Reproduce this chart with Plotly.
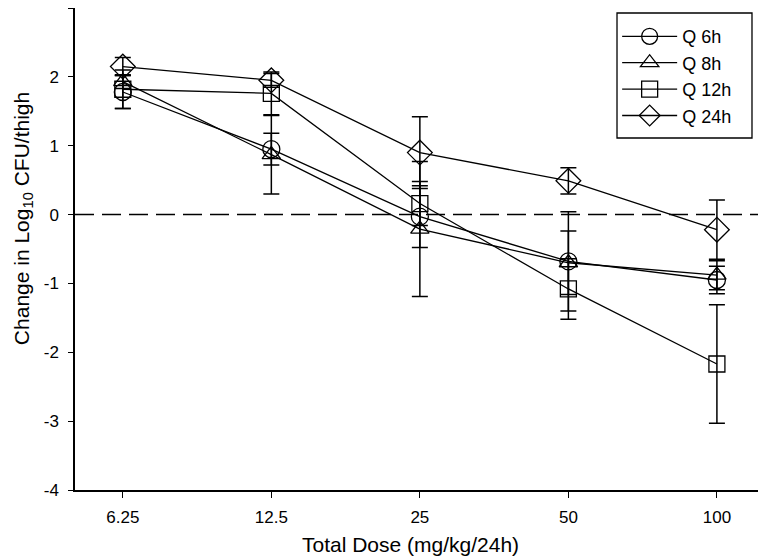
import plotly.graph_objects as go
import numpy as np

doses = [6.25, 12.5, 25, 50, 100]
tick_labels = ["6.25", "12.5", "25", "50", "100"]
y_ticks = [-4, -3, -2, -1, 0, 1, 2, 3]
y_tick_labels = ["-4", "-3", "-2", "-1", "0", "1", "2", "3"]

series_names = ["Q 6h", "Q 8h", "Q 12h", "Q 24h"]
q6_mean = [1.78, 0.95, -0.03, -0.68, -0.95]
q6_err = [0.24, 0.23, 0.45, 0.72, 0.20]
q8_mean = [1.93, 0.87, -0.21, -0.70, -0.88]
q8_err = [0.10, 0.57, 0.98, 0.46, 0.21]
q12_mean = [1.82, 1.76, 0.16, -1.08, -2.17]
q12_err = [0.28, 0.31, 0.32, 0.44, 0.86]
q24_mean = [2.15, 1.95, 0.90, 0.49, -0.22]
q24_err = [0.13, 0.10, 0.52, 0.19, 0.43]

symbols = ["circle-open", "triangle-up-open", "square-open", "diamond-open"]
sizes = [17, 16, 16, 19]
means = [q6_mean, q8_mean, q12_mean, q24_mean]
errs = [q6_err, q8_err, q12_err, q24_err]

FONT = "Liberation Sans, Arial, sans-serif"

fig = go.Figure()
for name, m, e, sym, sz in zip(series_names, means, errs, symbols, sizes):
    fig.add_trace(go.Scatter(
        x=doses, y=m, name=name, mode="lines+markers",
        line=dict(color="black", width=1.3),
        marker=dict(symbol=sym, size=sz, color="black", line=dict(color="black", width=1.3)),
        error_y=dict(type="data", array=e, visible=True, color="black", thickness=1.5, width=8),
    ))

fig.add_shape(type="line", xref="paper", x0=0, x1=1, yref="y", y0=0, y1=0,
              line=dict(color="black", width=1.5, dash="19px,8px"), layer="below")
# legend frame
fig.add_shape(type="rect", xref="paper", yref="paper", x0=0.7878, x1=0.984, y0=0.7303, y1=0.9896,
              line=dict(color="black", width=1.3), fillcolor="white", layer="above")

fig.add_annotation(text="Total Dose (mg/kg/24h)", xref="paper", yref="paper",
                   x=0.487, y=-0.114, xanchor="center", yanchor="middle", showarrow=False,
                   font=dict(family=FONT, size=21))
fig.add_annotation(text="Change in Log<sub>10</sub> CFU/thigh", xref="paper", yref="paper",
                   x=-0.0974, y=0.564, xanchor="left", yanchor="middle", showarrow=False,
                   textangle=-90, font=dict(family=FONT, size=21))

fig.update_layout(
    width=758, height=551,
    paper_bgcolor="white", plot_bgcolor="white",
    margin=dict(l=67, r=3, t=0, b=69, autoexpand=False),
    font=dict(family=FONT, size=16, color="black"),
    showlegend=True,
    legend=dict(x=0.788, y=0.979, xanchor="left", yanchor="top",
                borderwidth=0, bgcolor="rgba(0,0,0,0)",
                font=dict(family=FONT, size=18), tracegroupgap=0,
                itemwidth=55),
    xaxis=dict(type="log", range=[np.log10(5.0), np.log10(124)],
               tickmode="array", tickvals=doses, ticktext=tick_labels,
               ticks="outside", ticklen=6, tickwidth=1.3, tickcolor="black",
               showline=True, linecolor="black", linewidth=1.5,
               showgrid=False, zeroline=False, automargin=False,
               ticklabelstandoff=5,
               tickfont=dict(family=FONT, size=17)),
    yaxis=dict(range=[-4, 3], tickmode="array", tickvals=y_ticks, ticktext=y_tick_labels,
               ticks="outside", ticklen=5, tickwidth=1.3, tickcolor="black",
               showline=True, linecolor="black", linewidth=1.5, mirror=True,
               showgrid=False, zeroline=False, automargin=False,
               ticklabelstandoff=6,
               tickfont=dict(family=FONT, size=17)),
)

fig.write_html("out.html")
